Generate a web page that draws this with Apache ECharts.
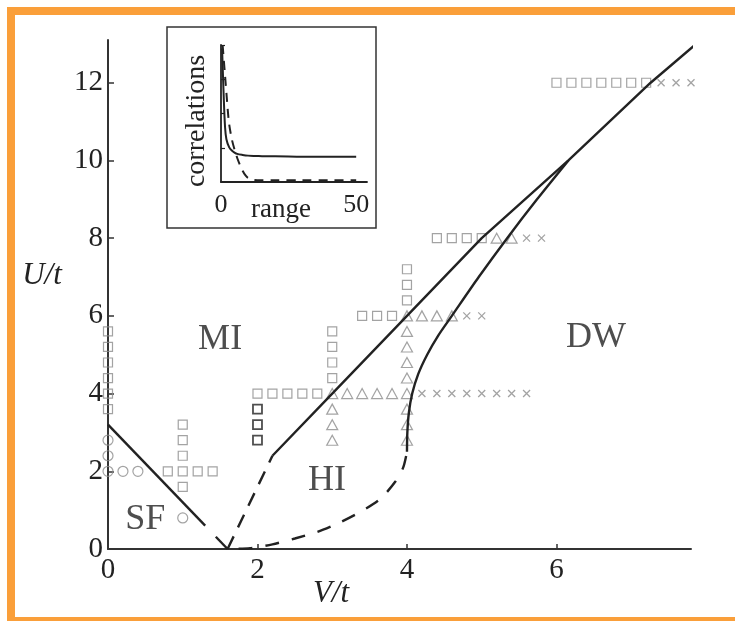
<!DOCTYPE html>
<html>
<head>
<meta charset="utf-8">
<script src="https://cdn.jsdelivr.net/npm/echarts@6/dist/echarts.min.js"></script>
<style>
  html, body { margin: 0; padding: 0; background: #fff; }
  #chart { width: 735px; height: 621px; }
</style>
</head>
<body>
<div id="chart"></div>
<script>
// Phase diagram in the (V/t, U/t) plane with a correlation inset.
const xTicks = [0, 2, 4, 6];
const yTicks = [0, 2, 4, 6, 8, 10, 12];

// Phase boundaries, points are [V/t, U/t]
const sfSolid = [[0, 3.2], [1.3, 0.6]];
const sfDashed = [[1.6, 0], [1.3, 0.6]];
const hiLeftDashed = [[1.6, 0], [2.2, 2.4]];
const miBoundary = [[2.2, 2.4], [3, 4], [4, 6], [5, 8], [6.16, 10], [7.26, 12], [7.84, 12.95]];
const dwBoundary = [[4.0, 2.5], [4.005, 3.0], [4.025, 3.5], [4.07, 4.0], [4.15, 4.5], [4.27, 5.0],
                    [4.42, 5.5], [4.6, 6], [4.96, 7], [5.34, 8], [5.74, 9], [6.16, 10]];
const hiBottomDashed = [[1.6, 0], [1.9, 0.02], [2.2, 0.12], [2.5, 0.27], [2.8, 0.44], [3.1, 0.68],
                        [3.4, 0.98], [3.65, 1.3], [3.85, 1.75], [3.95, 2.1], [4.0, 2.5]];

// Simulated parameter points
const squares = [
  [0, 3.6], [0, 4.0], [0, 4.4], [0, 4.8], [0, 5.2], [0, 5.6],
  [1, 1.6], [1, 2.0], [1, 2.4], [1, 2.8], [1, 3.2],
  [0.8, 2], [1.2, 2], [1.4, 2],
  [2.0, 4], [2.2, 4], [2.4, 4], [2.6, 4], [2.8, 4],
  [3, 4.4], [3, 4.8], [3, 5.2], [3, 5.6],
  [4, 6.4], [4, 6.8], [4, 7.2],
  [3.4, 6], [3.6, 6], [3.8, 6],
  [4.4, 8], [4.6, 8], [4.8, 8], [5.0, 8],
  [6.0, 12], [6.2, 12], [6.4, 12], [6.6, 12], [6.8, 12], [7.0, 12], [7.2, 12]
];
const darkSquares = [[2, 2.8], [2, 3.2], [2, 3.6]];
const circles = [[0, 2.0], [0, 2.4], [0, 2.8], [0.2, 2], [0.4, 2], [1, 0.8]];
const triangles = [
  [3.0, 4], [3.2, 4], [3.4, 4], [3.6, 4], [3.8, 4], [4.0, 4],
  [3, 2.8], [3, 3.2], [3, 3.6],
  [4, 2.8], [4, 3.2], [4, 3.6], [4, 4.4], [4, 4.8], [4, 5.2], [4, 5.6], [4, 6.0],
  [4.2, 6], [4.4, 6], [4.6, 6],
  [5.2, 8], [5.4, 8]
];
const crosses = [
  [4.2, 4], [4.4, 4], [4.6, 4], [4.8, 4], [5.0, 4], [5.2, 4], [5.4, 4], [5.6, 4],
  [4.8, 6], [5.0, 6],
  [5.6, 8], [5.8, 8],
  [7.4, 12], [7.6, 12], [7.8, 12]
];

const regionNames = ['MI', 'DW', 'HI', 'SF'];
const regionPos = [[1.5, 5.4], [6.53, 5.45], [2.93, 1.75], [0.5, 0.75]];

// Inset: correlation functions versus range
const insetTicksX = [0, 50];
const solidRange = [0.4, 1, 1.5, 2, 3, 4, 5, 6, 8, 10, 13, 16, 20, 30, 40, 50];
const solidCorr = [3.9, 2.5, 1.6, 1.25, 1.02, 0.92, 0.86, 0.82, 0.79, 0.77, 0.76, 0.75, 0.75, 0.74, 0.74, 0.74];
const dashedRange = [0.6, 1, 1.5, 2, 2.5, 3, 4, 5, 6, 7, 8, 9, 10, 12, 15, 20, 30, 40, 50];
const dashedCorr = [4.0, 3.6, 3.1, 2.6, 2.1, 1.7, 1.25, 0.95, 0.7, 0.5, 0.33, 0.2, 0.12, 0.06, 0.05, 0.05, 0.05, 0.05, 0.05];

const zip = (xs, ys) => xs.map((x, i) => [x, ys[i]]);

const SERIF = '"Liberation Serif", "Times New Roman", serif';
const INK = '#222';
const GREY = '#8c8c8c';
const DASH = [14, 10];

function curve(data, lineStyle, smooth, extra) {
  return Object.assign({
    type: 'line', data: data, symbol: 'none', smooth: smooth || false,
    clip: false, silent: true, z: 4,
    lineStyle: Object.assign({ color: INK, width: 2.4, type: 'solid' }, lineStyle)
  }, extra || {});
}

function markers(data, symbol, size, color, width) {
  return {
    type: 'scatter', data: data, symbol: symbol, symbolSize: size, clip: false, silent: true, z: 3,
    itemStyle: { color: 'rgba(0,0,0,0)', borderColor: color, borderWidth: width }
  };
}

const chart = echarts.init(document.getElementById('chart'));
chart.setOption({
  animation: false,
  backgroundColor: '#fff',
  grid: [
    { left: 108, top: 40, right: 44, bottom: 72 },
    { left: 221, top: 45, width: 146, height: 137 }
  ],
  xAxis: [
    {
      type: 'value', gridIndex: 0, min: 0, max: 7.8, splitLine: { show: false },
      axisLine: { lineStyle: { color: '#333', width: 2 } },
      axisTick: { inside: true, length: 5, customValues: xTicks.slice(1), lineStyle: { color: '#333', width: 1.5 } },
      axisLabel: { customValues: xTicks, margin: 7, fontFamily: SERIF, fontSize: 29, color: INK }
    },
    {
      type: 'value', gridIndex: 1, min: 0, max: 54, splitLine: { show: false },
      axisLine: { lineStyle: { color: '#222', width: 1.8 } },
      axisTick: { show: false },
      axisLabel: { customValues: insetTicksX, margin: 10, fontFamily: SERIF, fontSize: 26, color: INK }
    }
  ],
  yAxis: [
    {
      type: 'value', gridIndex: 0, min: 0, max: 13.1, splitLine: { show: false },
      axisLine: { lineStyle: { color: '#333', width: 2 } },
      axisTick: { inside: true, length: 6, customValues: yTicks.slice(1), lineStyle: { color: '#333', width: 1.5 } },
      axisLabel: { customValues: yTicks, margin: 5, fontFamily: SERIF, fontSize: 29, color: INK }
    },
    {
      type: 'value', gridIndex: 1, min: 0, max: 4, splitLine: { show: false },
      axisLine: { lineStyle: { color: '#222', width: 1.8 } },
      axisTick: { inside: true, length: 4, customValues: [1, 2, 3, 4], lineStyle: { color: '#222', width: 1.2 } },
      axisLabel: { show: false }
    }
  ],
  series: [
    markers(squares, 'rect', 9, GREY, 1.2),
    markers(darkSquares, 'rect', 9, '#222', 1.8),
    markers(circles, 'circle', 10, GREY, 1.2),
    markers(triangles, 'triangle', [11, 10], GREY, 1.2),
    markers(crosses, 'path://M0,0L10,10M10,0L0,10', 7, GREY, 1.3),
    curve(sfSolid, {}, false),
    curve(sfDashed, { type: [17, 30] }, false),
    curve(hiLeftDashed, { type: DASH }, false),
    curve(miBoundary, {}, false),
    curve(dwBoundary, {}, 0.25),
    curve(hiBottomDashed, { type: [14, 13], dashOffset: 16 }, 0.25),
    {
      type: 'scatter', symbolSize: 0, silent: true, z: 5,
      data: regionNames.map((n, i) => ({ name: n, value: regionPos[i] })),
      label: { show: true, position: 'inside', formatter: '{b}', fontFamily: SERIF, fontSize: 36, color: INK }
    },
    curve(zip(solidRange, solidCorr), { width: 2 }, 0.3, { xAxisIndex: 1, yAxisIndex: 1 }),
    curve(zip(dashedRange, dashedCorr), { width: 2, type: [9, 7] }, 0.3, { xAxisIndex: 1, yAxisIndex: 1 })
  ],
  graphic: [
    { type: 'rect', z: -1, shape: { x: 11, y: 11, width: 760, height: 610 },
      style: { fill: 'none', stroke: '#FA9F3A', lineWidth: 8 } },
    { type: 'rect', z: -1, shape: { x: 167, y: 27, width: 209, height: 201 },
      style: { fill: '#fff', stroke: '#333', lineWidth: 1.5 } },
    { type: 'text', x: 42, y: 276, style: { text: 'U/t', font: 'italic 31px ' + SERIF, fill: INK, align: 'center', verticalAlign: 'middle' } },
    { type: 'text', x: 331, y: 594, style: { text: 'V/t', font: 'italic 31px ' + SERIF, fill: INK, align: 'center', verticalAlign: 'middle' } },
    { type: 'text', x: 281, y: 210, style: { text: 'range', font: '27px ' + SERIF, fill: INK, align: 'center', verticalAlign: 'middle' } },
    { type: 'text', x: 197, y: 121, rotation: Math.PI / 2, style: { text: 'correlations', font: '28px ' + SERIF, fill: INK, align: 'center', verticalAlign: 'middle' } }
  ]
});
</script>
</body>
</html>
